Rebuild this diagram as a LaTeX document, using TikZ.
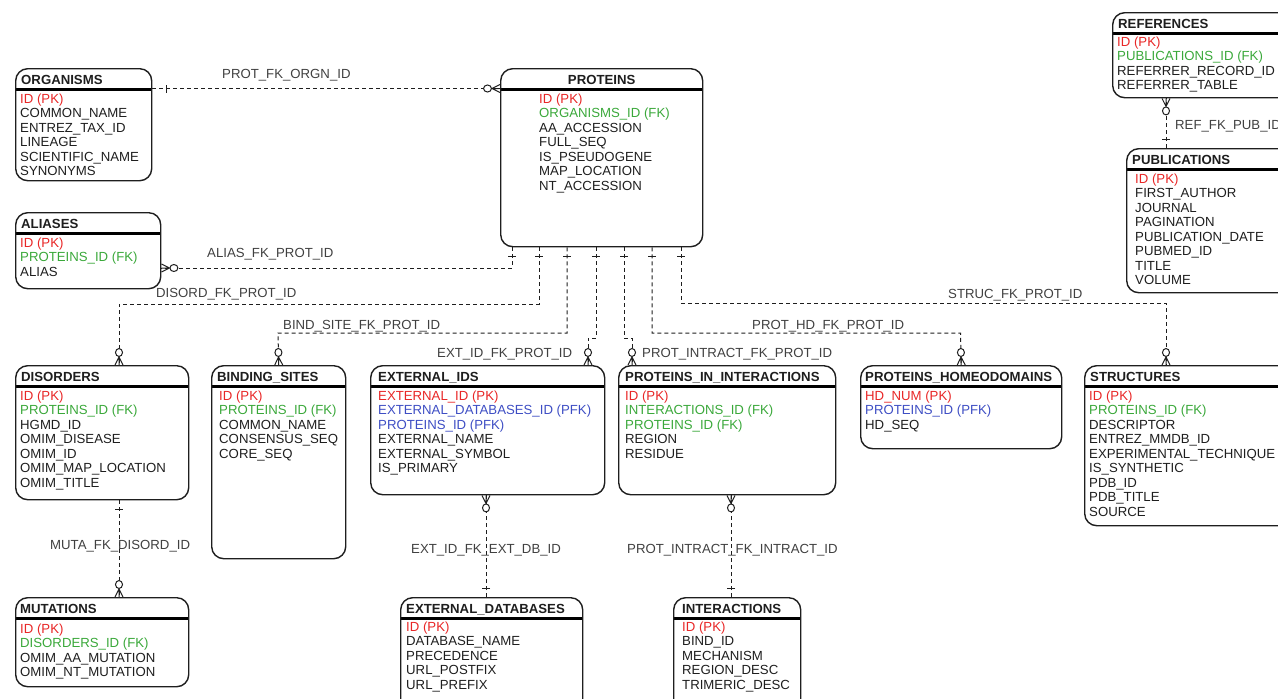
\documentclass[tikz,border=0pt]{standalone}
\usepackage{fontspec}
\setmainfont{Liberation Sans}
\usetikzlibrary{decorations.markings}

\definecolor{ink}{RGB}{30,30,30}
\definecolor{pkred}{RGB}{232,38,38}
\definecolor{fkgreen}{RGB}{58,168,58}
\definecolor{pfkblue}{RGB}{62,78,196}

\begin{document}
\begin{tikzpicture}[
        x=1pt, y=-1pt,
        every node/.style={text=ink},
        tbl/.style={draw=ink, line width=1.4pt, rounded corners=12pt,
            anchor=north west, inner sep=0pt,
            path picture={\draw[line width=3pt, black]
                ([yshift=-20.5pt]path picture bounding box.north west) --
                ([yshift=-20.5pt]path picture bounding box.north east);}},
        ttl/.style={anchor=base west, inner sep=0pt,
            font=\fontsize{13.2}{14.5}\selectfont\bfseries},
        rows/.style={anchor=north west, inner sep=0pt, align=left,
            font=\fontsize{13.2}{14.5}\selectfont},
        lbl/.style={anchor=base west, inner sep=0pt,
            font=\fontsize{13.2}{14.5}\selectfont, text=ink!85},
        rel/.style={draw=ink, line width=1pt, dash pattern=on 4pt off 3pt},
        one/.style={postaction={decorate, decoration={markings,
            mark=at position #1 with {\draw[solid, line width=1pt] (0pt,-4pt) -- (0pt,4pt);}}}},
        one/.default=9pt,
        many/.style={postaction={decorate, decoration={markings,
            mark=at position -8pt with {\draw[solid, line width=1pt]
                (0pt,0pt) -- (8pt,4pt) (0pt,0pt) -- (8pt,0pt) (0pt,0pt) -- (8pt,-4pt);},
            mark=at position -12.5pt with {\draw[solid, line width=1pt, fill=white]
                (0pt,0pt) ellipse (4pt and 3.5pt);}}}},
    ]

    \useasboundingbox (0,0) rectangle (1278,699);
    \clip (0,0) rectangle (1278,699);

    % tables, top row
    \node[tbl, minimum width=136pt, minimum height=112pt] (organisms) at (15,68) {};
    \node[ttl] (organisms-title) at ([xshift=6pt,yshift=-16pt]organisms.north west) {ORGANISMS};
    \node[rows] (organisms-rows) at ([xshift=5pt,yshift=-25.5pt]organisms.north west)
        {\textcolor{pkred}{ID (PK)}\\COMMON\_NAME\\ENTREZ\_TAX\_ID\\LINEAGE\\SCIENTIFIC\_NAME\\SYNONYMS};

    \node[tbl, minimum width=202pt, minimum height=178pt] (proteins) at (500,68) {};
    \node[ttl, anchor=base] (proteins-title) at ([yshift=-16pt]proteins.north) {PROTEINS};
    \node[rows] (proteins-rows) at ([xshift=39pt,yshift=-25.5pt]proteins.north west)
        {\textcolor{pkred}{ID (PK)}\\\textcolor{fkgreen}{ORGANISMS\_ID (FK)}\\AA\_ACCESSION\\FULL\_SEQ\\IS\_PSEUDOGENE\\MAP\_LOCATION\\NT\_ACCESSION};

    \node[tbl, minimum width=145pt, minimum height=76pt] (aliases) at (15,212) {};
    \node[ttl] (aliases-title) at ([xshift=6pt,yshift=-16pt]aliases.north west) {ALIASES};
    \node[rows] (aliases-rows) at ([xshift=5pt,yshift=-25.5pt]aliases.north west)
        {\textcolor{pkred}{ID (PK)}\\\textcolor{fkgreen}{PROTEINS\_ID (FK)}\\ALIAS};

    \node[tbl, minimum width=200pt, minimum height=85pt] (references) at (1112,12) {};
    \node[ttl] (references-title) at ([xshift=6pt,yshift=-16pt]references.north west) {REFERENCES};
    \node[rows] (references-rows) at ([xshift=5pt,yshift=-24.5pt]references.north west)
        {\textcolor{pkred}{ID (PK)}\\\textcolor{fkgreen}{PUBLICATIONS\_ID (FK)}\\REFERRER\_RECORD\_ID\\REFERRER\_TABLE};

    \node[tbl, minimum width=200pt, minimum height=144pt] (publications) at (1126,148) {};
    \node[ttl] (publications-title) at ([xshift=6pt,yshift=-16pt]publications.north west) {PUBLICATIONS};
    \node[rows] (publications-rows) at ([xshift=9pt,yshift=-25.5pt]publications.north west)
        {\textcolor{pkred}{ID (PK)}\\FIRST\_AUTHOR\\JOURNAL\\PAGINATION\\PUBLICATION\_DATE\\PUBMED\_ID\\TITLE\\VOLUME};

    % tables, middle row
    \node[tbl, minimum width=173pt, minimum height=134pt] (disorders) at (15,365) {};
    \node[ttl] (disorders-title) at ([xshift=6pt,yshift=-16pt]disorders.north west) {DISORDERS};
    \node[rows] (disorders-rows) at ([xshift=5pt,yshift=-25.5pt]disorders.north west)
        {\textcolor{pkred}{ID (PK)}\\\textcolor{fkgreen}{PROTEINS\_ID (FK)}\\HGMD\_ID\\OMIM\_DISEASE\\OMIM\_ID\\OMIM\_MAP\_LOCATION\\OMIM\_TITLE};

    \node[tbl, minimum width=134pt, minimum height=193pt] (bindsites) at (211,365) {};
    \node[ttl] (bindsites-title) at ([xshift=6pt,yshift=-16pt]bindsites.north west) {BINDING\_SITES};
    \node[rows] (bindsites-rows) at ([xshift=8pt,yshift=-25.5pt]bindsites.north west)
        {\textcolor{pkred}{ID (PK)}\\\textcolor{fkgreen}{PROTEINS\_ID (FK)}\\COMMON\_NAME\\CONSENSUS\_SEQ\\CORE\_SEQ};

    \node[tbl, minimum width=234pt, minimum height=129pt] (extids) at (370,365) {};
    \node[ttl] (extids-title) at ([xshift=8pt,yshift=-16pt]extids.north west) {EXTERNAL\_IDS};
    \node[rows] (extids-rows) at ([xshift=8pt,yshift=-25.5pt]extids.north west)
        {\textcolor{pkred}{EXTERNAL\_ID (PK)}\\\textcolor{pfkblue}{EXTERNAL\_DATABASES\_ID (PFK)}\\\textcolor{pfkblue}{PROTEINS\_ID (PFK)}\\EXTERNAL\_NAME\\EXTERNAL\_SYMBOL\\IS\_PRIMARY};

    \node[tbl, minimum width=217pt, minimum height=129pt] (protinter) at (618,365) {};
    \node[ttl] (protinter-title) at ([xshift=7pt,yshift=-16pt]protinter.north west) {PROTEINS\_IN\_INTERACTIONS};
    \node[rows] (protinter-rows) at ([xshift=7pt,yshift=-25.5pt]protinter.north west)
        {\textcolor{pkred}{ID (PK)}\\\textcolor{fkgreen}{INTERACTIONS\_ID (FK)}\\\textcolor{fkgreen}{PROTEINS\_ID (FK)}\\REGION\\RESIDUE};

    \node[tbl, minimum width=201pt, minimum height=83pt] (homeo) at (860,365) {};
    \node[ttl] (homeo-title) at ([xshift=5pt,yshift=-16pt]homeo.north west) {PROTEINS\_HOMEODOMAINS};
    \node[rows] (homeo-rows) at ([xshift=5pt,yshift=-25.5pt]homeo.north west)
        {\textcolor{pkred}{HD\_NUM (PK)}\\\textcolor{pfkblue}{PROTEINS\_ID (PFK)}\\HD\_SEQ};

    \node[tbl, minimum width=220pt, minimum height=160pt] (structures) at (1084,365) {};
    \node[ttl] (structures-title) at ([xshift=6pt,yshift=-16pt]structures.north west) {STRUCTURES};
    \node[rows] (structures-rows) at ([xshift=5pt,yshift=-25.5pt]structures.north west)
        {\textcolor{pkred}{ID (PK)}\\\textcolor{fkgreen}{PROTEINS\_ID (FK)}\\DESCRIPTOR\\ENTREZ\_MMDB\_ID\\EXPERIMENTAL\_TECHNIQUE\\IS\_SYNTHETIC\\PDB\_ID\\PDB\_TITLE\\SOURCE};

    % tables, bottom row
    \node[tbl, minimum width=173pt, minimum height=89pt] (mutations) at (15,597) {};
    \node[ttl] (mutations-title) at ([xshift=5pt,yshift=-16pt]mutations.north west) {MUTATIONS};
    \node[rows] (mutations-rows) at ([xshift=5pt,yshift=-26.5pt]mutations.north west)
        {\textcolor{pkred}{ID (PK)}\\\textcolor{fkgreen}{DISORDERS\_ID (FK)}\\OMIM\_AA\_MUTATION\\OMIM\_NT\_MUTATION};

    \node[tbl, minimum width=182pt, minimum height=120pt] (extdbs) at (400,597) {};
    \node[ttl] (extdbs-title) at ([xshift=6pt,yshift=-16pt]extdbs.north west) {EXTERNAL\_DATABASES};
    \node[rows] (extdbs-rows) at ([xshift=6pt,yshift=-24.5pt]extdbs.north west)
        {\textcolor{pkred}{ID (PK)}\\DATABASE\_NAME\\PRECEDENCE\\URL\_POSTFIX\\URL\_PREFIX};

    \node[tbl, minimum width=127pt, minimum height=120pt] (interactions) at (673,597) {};
    \node[ttl] (interactions-title) at ([xshift=9pt,yshift=-16pt]interactions.north west) {INTERACTIONS};
    \node[rows] (interactions-rows) at ([xshift=9pt,yshift=-24.5pt]interactions.north west)
        {\textcolor{pkred}{ID (PK)}\\BIND\_ID\\MECHANISM\\REGION\_DESC\\TRIMERIC\_DESC};

    % relations
    \draw[rel, one=14pt, many] ([yshift=-20.5pt]organisms.north east) -- ([yshift=-20.5pt]proteins.north west);
    \node[lbl] (l-orgn) at (222,78.5) {PROT\_FK\_ORGN\_ID};

    \draw[rel, one, many] ([xshift=12pt]proteins.south west) |- ([yshift=-56pt]aliases.north east);
    \node[lbl] (l-alias) at (207,257.5) {ALIAS\_FK\_PROT\_ID};

    \draw[rel, one, many] ([xshift=39pt]proteins.south west) |- (119,304) -- ([xshift=104pt]disorders.north west);
    \node[lbl] (l-disord) at (156,297.5) {DISORD\_FK\_PROT\_ID};

    \draw[rel, one, many] ([xshift=67pt]proteins.south west) |- (278,333) -- (bindsites.north);
    \node[lbl] (l-bind) at (283,329.5) {BIND\_SITE\_FK\_PROT\_ID};

    \draw[rel, one, many] ([xshift=96pt]proteins.south west) |- (588,338) -- ([xshift=218pt]extids.north west);
    \node[lbl] (l-extid) at (437,357.5) {EXT\_ID\_FK\_PROT\_ID};

    \draw[rel, one, many] ([xshift=124pt]proteins.south west) |- (632,338) -- ([xshift=14pt]protinter.north west);
    \node[lbl] (l-intract) at (642,357.5) {PROT\_INTRACT\_FK\_PROT\_ID};

    \draw[rel, one, many] ([xshift=152pt]proteins.south west) |- (960.5,333) -- (homeo.north);
    \node[lbl] (l-hd) at (752,329.5) {PROT\_HD\_FK\_PROT\_ID};

    \draw[rel, one, many] ([xshift=181pt]proteins.south west) |- (1166,303) -- ([xshift=82pt]structures.north west);
    \node[lbl] (l-struc) at (948,298.5) {STRUC\_FK\_PROT\_ID};

    \draw[rel, one, many] ([xshift=40pt]publications.north west) -- ([xshift=54pt]references.south west);
    \node[lbl] (l-ref) at (1175,129.5) {REF\_FK\_PUB\_ID};

    \draw[rel, one, many] ([xshift=104pt]disorders.south west) -- ([xshift=104pt]mutations.north west);
    \node[lbl] (l-muta) at (50,549.5) {MUTA\_FK\_DISORD\_ID};

    \draw[rel, one, many] ([xshift=86pt]extdbs.north west) -- ([xshift=116pt]extids.south west);
    \node[lbl] (l-extdb) at (411,553.5) {EXT\_ID\_FK\_EXT\_DB\_ID};

    \draw[rel, one, many] ([xshift=58pt]interactions.north west) -- ([xshift=113pt]protinter.south west);
    \node[lbl] (l-intract2) at (627,553.5) {PROT\_INTRACT\_FK\_INTRACT\_ID};

\end{tikzpicture}
\end{document}
